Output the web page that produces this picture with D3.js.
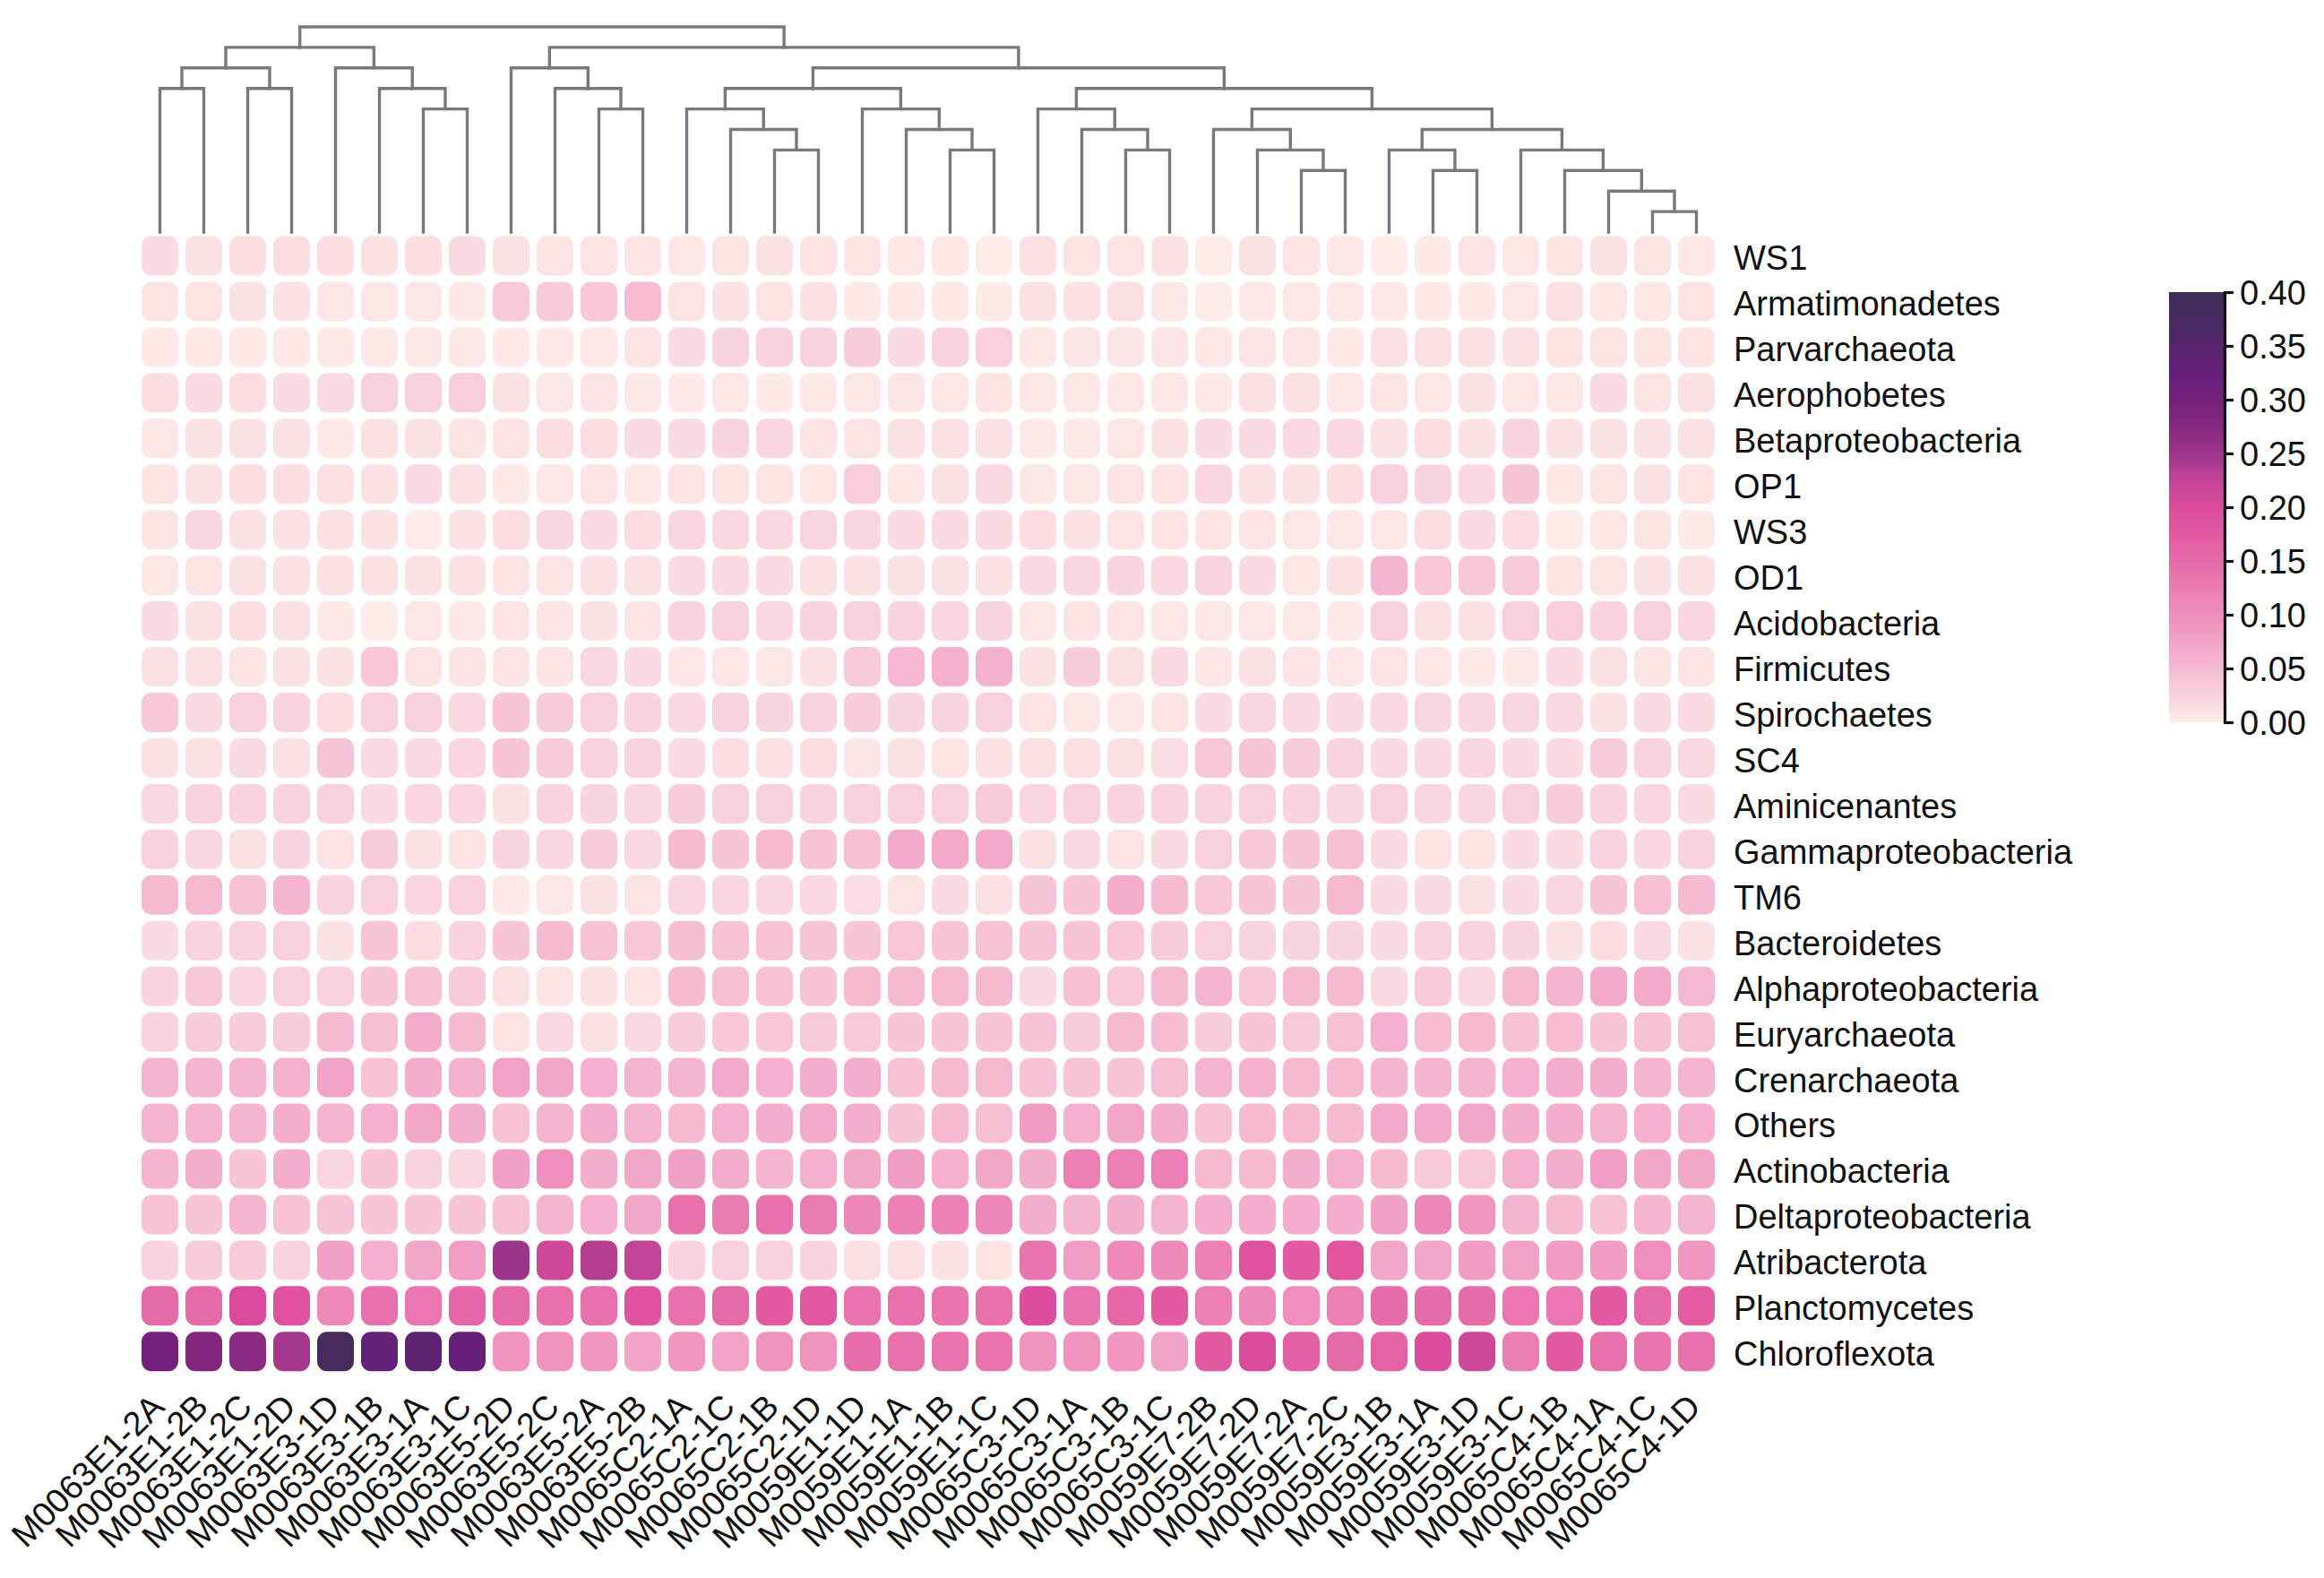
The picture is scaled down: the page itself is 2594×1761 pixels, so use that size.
<!DOCTYPE html>
<html><head><meta charset="utf-8">
<script src="https://cdn.jsdelivr.net/npm/d3@7"></script>
<style>html,body{margin:0;padding:0;background:#fff;} svg{display:block;}</style>
</head><body>
<svg id="chart" width="2594" height="1761"></svg>
<script>
// ---------------- DATA ----------------
const samples = ["M0063E1-2A","M0063E1-2B","M0063E1-2C","M0063E1-2D","M0063E3-1D","M0063E3-1B","M0063E3-1A","M0063E3-1C",
  "M0063E5-2D","M0063E5-2C","M0063E5-2A","M0063E5-2B","M0065C2-1A","M0065C2-1C","M0065C2-1B","M0065C2-1D",
  "M0059E1-1D","M0059E1-1A","M0059E1-1B","M0059E1-1C","M0065C3-1D","M0065C3-1A","M0065C3-1B","M0065C3-1C",
  "M0059E7-2B","M0059E7-2D","M0059E7-2A","M0059E7-2C","M0059E3-1B","M0059E3-1A","M0059E3-1D","M0059E3-1C",
  "M0065C4-1B","M0065C4-1A","M0065C4-1C","M0065C4-1D"];

const taxa = ["WS1","Armatimonadetes","Parvarchaeota","Aerophobetes","Betaproteobacteria","OP1","WS3","OD1",
  "Acidobacteria","Firmicutes","Spirochaetes","SC4","Aminicenantes","Gammaproteobacteria","TM6","Bacteroidetes",
  "Alphaproteobacteria","Euryarchaeota","Crenarchaeota","Others","Actinobacteria","Deltaproteobacteria",
  "Atribacterota","Planctomycetes","Chloroflexota"];

const WS1 = [0.017,0.01,0.015,0.015,0.015,0.01,0.015,0.017,0.01,0.008,0.008,0.008,0.006,0.008,0.01,0.008,0.008,0.006,0.006,0.0,0.013,0.008,0.008,0.01,0.0,0.012,0.008,0.006,0.0,0.001,0.009,0.006,0.008,0.012,0.008,0.006];
const Armatimonadetes = [0.008,0.008,0.01,0.01,0.006,0.005,0.005,0.002,0.035,0.033,0.036,0.048,0.008,0.01,0.008,0.01,0.002,0.002,0.002,0.001,0.01,0.01,0.012,0.005,0.0,0.002,0.005,0.005,0.002,0.002,0.002,0.005,0.012,0.006,0.006,0.008];
const Parvarchaeota = [0.003,0.004,0.004,0.004,0.003,0.003,0.004,0.004,0.003,0.003,0.004,0.008,0.017,0.022,0.025,0.025,0.032,0.017,0.025,0.029,0.006,0.007,0.007,0.007,0.005,0.007,0.007,0.003,0.012,0.013,0.013,0.01,0.008,0.008,0.008,0.008];
const Aerophobetes = [0.015,0.017,0.015,0.017,0.017,0.028,0.027,0.03,0.01,0.005,0.009,0.002,0.002,0.005,0.001,0.003,0.005,0.007,0.006,0.008,0.006,0.006,0.006,0.006,0.002,0.012,0.012,0.006,0.008,0.006,0.01,0.006,0.006,0.017,0.008,0.01];
const Betaproteobacteria = [0.006,0.01,0.01,0.01,0.002,0.012,0.01,0.008,0.008,0.015,0.015,0.017,0.017,0.022,0.021,0.008,0.008,0.012,0.012,0.01,0.004,0.004,0.006,0.01,0.017,0.017,0.02,0.02,0.01,0.015,0.01,0.025,0.01,0.01,0.01,0.01];
const OP1 = [0.008,0.01,0.015,0.015,0.012,0.01,0.017,0.01,0.003,0.005,0.008,0.003,0.008,0.008,0.008,0.006,0.03,0.006,0.01,0.02,0.005,0.006,0.008,0.008,0.021,0.012,0.01,0.015,0.028,0.022,0.02,0.04,0.006,0.008,0.01,0.008];
const WS3 = [0.008,0.021,0.01,0.01,0.01,0.01,0.0,0.01,0.015,0.021,0.017,0.015,0.021,0.02,0.02,0.021,0.021,0.017,0.017,0.017,0.015,0.01,0.008,0.008,0.008,0.008,0.005,0.006,0.006,0.015,0.017,0.015,0.0,0.006,0.008,0.001];
const OD1 = [0.006,0.008,0.01,0.01,0.01,0.01,0.01,0.012,0.008,0.008,0.01,0.012,0.017,0.017,0.017,0.012,0.01,0.01,0.01,0.01,0.017,0.021,0.022,0.02,0.025,0.017,0.006,0.01,0.057,0.037,0.037,0.034,0.008,0.008,0.01,0.012];
const Acidobacteria = [0.017,0.01,0.015,0.01,0.002,0.0,0.006,0.002,0.008,0.008,0.01,0.008,0.025,0.028,0.02,0.025,0.026,0.025,0.021,0.022,0.006,0.008,0.008,0.006,0.005,0.006,0.005,0.002,0.028,0.01,0.01,0.028,0.03,0.025,0.028,0.021];
const Firmicutes = [0.012,0.012,0.008,0.01,0.01,0.037,0.008,0.008,0.008,0.008,0.02,0.017,0.006,0.006,0.005,0.01,0.034,0.053,0.06,0.06,0.01,0.031,0.012,0.017,0.006,0.01,0.008,0.006,0.008,0.006,0.003,0.001,0.017,0.01,0.008,0.008];
const Spirochaetes = [0.037,0.017,0.028,0.025,0.015,0.028,0.028,0.02,0.04,0.031,0.028,0.025,0.02,0.025,0.022,0.025,0.031,0.022,0.022,0.028,0.008,0.005,0.003,0.008,0.017,0.021,0.02,0.017,0.02,0.021,0.021,0.021,0.02,0.01,0.017,0.017];
const SC4 = [0.01,0.012,0.017,0.012,0.04,0.017,0.017,0.021,0.04,0.034,0.025,0.025,0.017,0.015,0.012,0.015,0.007,0.012,0.008,0.01,0.012,0.012,0.012,0.014,0.037,0.04,0.031,0.025,0.017,0.017,0.021,0.017,0.017,0.031,0.025,0.02];
const Aminicenantes = [0.02,0.025,0.025,0.025,0.028,0.017,0.021,0.021,0.01,0.025,0.022,0.021,0.031,0.028,0.028,0.024,0.027,0.028,0.028,0.033,0.021,0.027,0.022,0.025,0.025,0.027,0.025,0.021,0.027,0.021,0.021,0.027,0.031,0.025,0.021,0.017];
const Gammaproteobacteria = [0.025,0.021,0.012,0.022,0.008,0.031,0.01,0.008,0.022,0.021,0.031,0.02,0.05,0.04,0.05,0.043,0.045,0.07,0.07,0.07,0.01,0.017,0.008,0.017,0.028,0.037,0.04,0.045,0.017,0.008,0.008,0.017,0.017,0.025,0.021,0.025];
const TM6 = [0.052,0.052,0.043,0.057,0.025,0.028,0.021,0.028,0.003,0.006,0.01,0.008,0.021,0.021,0.021,0.019,0.016,0.008,0.017,0.012,0.04,0.04,0.064,0.05,0.037,0.04,0.04,0.052,0.017,0.017,0.012,0.017,0.021,0.04,0.046,0.05];
const Bacteroidetes = [0.017,0.025,0.025,0.028,0.01,0.04,0.015,0.025,0.04,0.05,0.043,0.037,0.047,0.043,0.043,0.04,0.04,0.038,0.04,0.043,0.04,0.04,0.037,0.031,0.028,0.022,0.022,0.022,0.017,0.025,0.025,0.022,0.01,0.015,0.019,0.01];
const Alphaproteobacteria = [0.025,0.037,0.021,0.028,0.028,0.04,0.043,0.034,0.012,0.008,0.01,0.008,0.05,0.046,0.043,0.043,0.052,0.052,0.052,0.05,0.017,0.045,0.035,0.052,0.057,0.038,0.052,0.05,0.018,0.034,0.019,0.052,0.057,0.068,0.068,0.054];
const Euryarchaeota = [0.025,0.031,0.031,0.031,0.052,0.046,0.066,0.05,0.008,0.02,0.012,0.02,0.031,0.036,0.036,0.034,0.034,0.04,0.04,0.04,0.04,0.032,0.052,0.048,0.031,0.04,0.035,0.043,0.062,0.048,0.052,0.043,0.048,0.04,0.043,0.043];
const Crenarchaeota = [0.058,0.058,0.058,0.06,0.075,0.043,0.064,0.06,0.077,0.072,0.062,0.057,0.057,0.07,0.062,0.064,0.064,0.043,0.05,0.052,0.043,0.04,0.04,0.046,0.056,0.06,0.052,0.05,0.058,0.058,0.056,0.062,0.064,0.064,0.058,0.058];
const Others = [0.058,0.058,0.058,0.064,0.058,0.062,0.072,0.064,0.043,0.058,0.064,0.057,0.05,0.062,0.064,0.07,0.064,0.04,0.05,0.046,0.084,0.062,0.072,0.064,0.043,0.05,0.052,0.05,0.07,0.07,0.072,0.064,0.064,0.057,0.062,0.062];
const Actinobacteria = [0.057,0.064,0.04,0.064,0.021,0.04,0.025,0.02,0.08,0.1,0.064,0.072,0.08,0.066,0.058,0.062,0.072,0.084,0.062,0.072,0.064,0.12,0.12,0.12,0.052,0.05,0.064,0.062,0.05,0.034,0.034,0.062,0.064,0.083,0.072,0.072];
const Deltaproteobacteria = [0.043,0.04,0.057,0.043,0.04,0.04,0.04,0.04,0.043,0.058,0.062,0.072,0.14,0.125,0.14,0.125,0.11,0.12,0.118,0.11,0.064,0.057,0.064,0.058,0.065,0.065,0.065,0.065,0.08,0.11,0.092,0.058,0.05,0.043,0.057,0.057];
const Atribacterota = [0.025,0.031,0.031,0.025,0.08,0.062,0.072,0.082,0.25,0.215,0.235,0.225,0.025,0.028,0.025,0.025,0.012,0.012,0.01,0.008,0.135,0.082,0.108,0.105,0.12,0.19,0.175,0.185,0.072,0.072,0.084,0.077,0.084,0.084,0.1,0.09];
const Planctomycetes = [0.15,0.15,0.205,0.19,0.108,0.14,0.133,0.155,0.15,0.14,0.14,0.19,0.14,0.15,0.175,0.18,0.138,0.14,0.135,0.14,0.2,0.138,0.155,0.175,0.12,0.105,0.1,0.12,0.148,0.148,0.148,0.132,0.132,0.175,0.15,0.17];
const Chloroflexota = [0.30,0.28,0.27,0.245,0.38,0.33,0.345,0.325,0.095,0.095,0.09,0.075,0.09,0.077,0.095,0.095,0.145,0.14,0.138,0.138,0.095,0.095,0.092,0.075,0.175,0.205,0.165,0.15,0.162,0.2,0.215,0.122,0.175,0.14,0.135,0.14];

const series = [WS1,Armatimonadetes,Parvarchaeota,Aerophobetes,Betaproteobacteria,OP1,WS3,OD1,Acidobacteria,
  Firmicutes,Spirochaetes,SC4,Aminicenantes,Gammaproteobacteria,TM6,Bacteroidetes,Alphaproteobacteria,
  Euryarchaeota,Crenarchaeota,Others,Actinobacteria,Deltaproteobacteria,Atribacterota,Planctomycetes,Chloroflexota];

// column dendrogram: [mergeLevel, left, right]; numbers are column indices
const dendrogram = [10,
  [9, [8, [7, 0, 1], [7, 2, 3]], [8, 4, [7, 5, [6, 6, 7]]]],
  [9, [8, 8, [7, 9, [6, 10, 11]]],
      [8, [7, [6, 12, [5, 13, [4, 14, 15]]], [6, 16, [5, 17, [4, 18, 19]]]],
          [7, [6, 20, [5, 21, [4, 22, 23]]],
              [6, [5, 24, [4, 25, [3, 26, 27]]],
                  [5, [4, 28, [3, 29, 30]], [4, 31, [3, 32, [2, 33, [1, 34, 35]]]]]]]]]];

const colorbarTicks = [0.00,0.05,0.10,0.15,0.20,0.25,0.30,0.35,0.40];
const cmapStops  = [0,0.025,0.05,0.075,0.1,0.125,0.15,0.175,0.2,0.225,0.25,0.275,0.3,0.325,0.35,0.375,0.4];
const cmapColors = ["#fdece9","#f9d3de","#f6bbd3","#f2a4c8","#ef8fbd","#eb7cb2","#e66aa8","#e35aa2","#dd4d9d",
                    "#c44598","#9c3589","#86287f","#74207b","#66207a","#582470","#462a5e","#3c2e55"];

// ---------------- DRAW ----------------
const svg = d3.select("#chart");
svg.append("rect").attr("width",2594).attr("height",1761).attr("fill","#ffffff");
const FONT = "'Liberation Sans', Arial, Helvetica, sans-serif";

const x = d3.scaleBand().domain(samples).range([154,1918]);
const y = d3.scaleBand().domain(taxa).range([260,1533.75]);
const color = d3.scaleLinear().domain(cmapStops).range(cmapColors).interpolate(d3.interpolateRgb).clamp(true);

const cw = 41, ch = 44;
const cells = [];
taxa.forEach((t,r)=>samples.forEach((s,c)=>cells.push({t,s,v:series[r][c]})));
svg.append("g").selectAll("rect").data(cells).join("rect")
  .attr("x",d=>x(d.s)+(x.bandwidth()-cw)/2)
  .attr("y",d=>y(d.t)+(y.bandwidth()-ch)/2)
  .attr("width",cw).attr("height",ch).attr("rx",11).attr("ry",11)
  .attr("fill",d=>color(d.v));

// row labels
svg.append("g").selectAll("text").data(taxa).join("text")
  .attr("x",1935).attr("y",d=>y(d)+y.bandwidth()/2).attr("dy","0.42em")
  .attr("font-family",FONT).attr("font-size",38).attr("fill","#111")
  .text(d=>d);

// column labels
svg.append("g").selectAll("text").data(samples).join("text")
  .attr("transform",d=>`translate(${x(d)+x.bandwidth()/2+7},1572) rotate(-45)`)
  .attr("text-anchor","end")
  .attr("font-family",FONT).attr("font-size",38).attr("fill","#111")
  .text(d=>d);

// dendrogram
const lvl = d3.scaleLinear().domain([0,10]).range([259,30]);
const dg = svg.append("g").attr("fill","none").attr("stroke","#777980").attr("stroke-width",3.4).attr("stroke-linecap","square");
function layout(node){
  if (typeof node === "number") return {x: x(samples[node])+x.bandwidth()/2, y: lvl(0)};
  const a = layout(node[1]), b = layout(node[2]);
  const yn = lvl(node[0]);
  dg.append("path").attr("d",`M${a.x},${a.y}V${yn}H${b.x}V${b.y}`);
  return {x:(a.x+b.x)/2, y:yn};
}
layout(dendrogram);

// colorbar
const cb = {x:2421, y:326, w:61, h:480};
const defs = svg.append("defs");
const grad = defs.append("linearGradient").attr("id","cbgrad").attr("x1",0).attr("y1",1).attr("x2",0).attr("y2",0);
d3.range(0,1.0001,0.02).forEach(t=>grad.append("stop").attr("offset",t).attr("stop-color",color(t*0.4)));
svg.append("rect").attr("x",cb.x).attr("y",cb.y).attr("width",cb.w).attr("height",cb.h).attr("fill","url(#cbgrad)");
const cy = d3.scaleLinear().domain([0,0.4]).range([cb.y+cb.h, cb.y]);
const ax = svg.append("g").attr("transform",`translate(${cb.x+cb.w+1},0)`)
  .call(d3.axisRight(cy).tickValues(colorbarTicks).tickFormat(d3.format(".2f")).tickSize(10).tickPadding(7));
ax.selectAll("path,line").attr("stroke","#111").attr("stroke-width",3.2);
ax.selectAll("text").attr("font-family",FONT).attr("font-size",38).attr("fill","#111").attr("dy","0.36em");
</script>
</body></html>
